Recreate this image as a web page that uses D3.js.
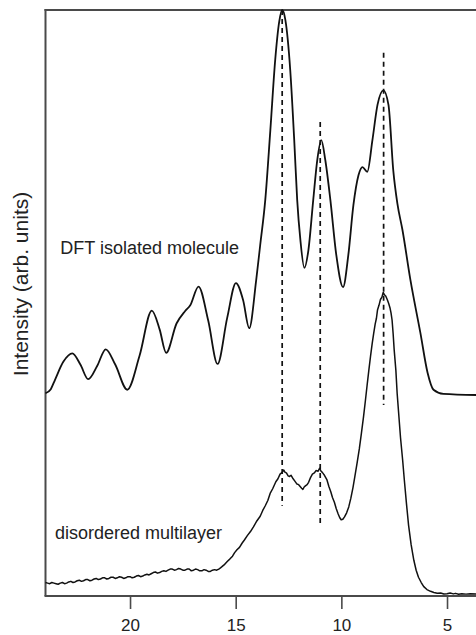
<!DOCTYPE html>
<html>
<head>
<meta charset="utf-8">
<script src="https://cdn.jsdelivr.net/npm/d3@7"></script>
<style>
  html, body { margin: 0; padding: 0; background: #fff; }
  svg { display: block; }
  text { font-family: "Liberation Sans", Arial, Helvetica, sans-serif; fill: #222; }
</style>
</head>
<body>
<svg id="chart" width="476" height="635"></svg>
<script>
// Energy axis (eV), drawn high to low
const energyDomain = [24, 3.6];
const intensityDomain = [0, 100];
const energyTicks = [20, 15, 10, 5];

// Calculated spectrum of the isolated molecule: [energy, intensity]
const dftSpectrum = [
  [24.0,34.6],[23.75,35.3],[23.55,36.9],[23.15,40.0],[22.73,41.4],[22.35,39.5],[21.98,37.0],
  [21.55,39.3],[21.15,42.1],[20.7,39.5],[20.13,35.2],[19.55,41.0],[18.97,48.7],
  [18.6,45.5],[18.29,41.5],[17.8,46.5],[17.4,48.6],[17.15,49.6],[16.76,52.8],[16.3,47.0],
  [15.86,39.6],[15.4,47.5],[14.99,53.4],[14.65,50.5],[14.36,45.7],[14.03,53.9],
  [13.84,59.9],[13.6,67.6],[13.36,79.5],[13.13,91.5],[12.94,98.0],[12.8,100],
  [12.65,98.3],[12.42,89.8],[12.23,77.8],[12.09,67.6],[11.94,60.8],[11.75,56.0],
  [11.56,59.0],[11.33,67.6],[11.14,74.4],[10.95,77.8],[10.76,74.4],[10.52,67.6],
  [10.24,58.2],[9.92,52.7],[9.67,58.2],[9.43,66.7],[9.19,71.8],[9.0,73.2],
  [8.77,72.4],[8.53,77.8],[8.29,83.8],[8.01,86.3],[7.77,83.8],[7.54,72.5],
  [7.35,67.0],[7.11,62.5],[6.73,53.9],[6.26,44.9],[5.92,38.1],[5.64,35.2],
  [5.17,34.5],[3.6,34.3]
];

// Measured spectrum of the disordered multilayer: [energy, intensity]
const multilayerSpectrum = [
  [24.0,2.3],[23.9,2.2],[23.8,2.1],[23.7,2.3],[23.6,2.2],[23.5,2.1],[23.4,2.0],[23.3,2.2],
  [23.2,2.3],[23.1,2.1],[23.0,2.2],[22.9,2.4],[22.8,2.5],[22.7,2.3],[22.6,2.4],[22.5,2.6],
  [22.4,2.7],[22.3,2.5],[22.2,2.6],[22.1,2.8],[22.0,2.8],[21.9,2.6],[21.8,2.7],[21.7,2.9],
  [21.6,3.0],[21.5,2.8],[21.4,2.9],[21.3,3.1],[21.2,3.1],[21.1,2.9],[21.0,3.0],[20.9,3.2],
  [20.8,3.2],[20.7,3.0],[20.6,3.1],[20.5,3.3],[20.4,3.2],[20.3,3.0],[20.2,3.1],[20.1,3.3],
  [20.0,3.3],[19.9,3.1],[19.8,3.2],[19.7,3.4],[19.6,3.5],[19.5,3.3],[19.4,3.4],[19.3,3.6],
  [19.2,3.7],[19.1,3.6],[19.0,3.8],[18.9,4.0],[18.8,4.1],[18.7,3.9],[18.6,4.0],[18.5,4.2],
  [18.4,4.3],[18.3,4.2],[18.2,4.4],[18.1,4.6],[18.0,4.6],[17.9,4.4],[17.8,4.5],[17.7,4.7],
  [17.6,4.6],[17.5,4.4],[17.4,4.4],[17.3,4.6],[17.2,4.6],[17.1,4.3],[17.0,4.4],[16.9,4.6],
  [16.8,4.5],[16.7,4.3],[16.6,4.3],[16.5,4.5],[16.4,4.4],[16.3,4.2],[16.2,4.2],[16.1,4.4],
  [16.0,4.5],[15.9,4.4],[15.8,4.6],[15.72,4.8],[15.65,5.0],[15.55,5.3],[15.4,5.9],
  [15.28,6.3],[15.15,6.8],[15.05,7.4],[14.94,7.9],[14.82,8.3],[14.7,9.0],[14.58,9.6],
  [14.45,10.3],[14.3,11.0],[14.16,11.8],[14.0,12.8],[13.84,13.6],[13.72,14.6],[13.6,15.4],
  [13.48,16.3],[13.37,17.5],[13.25,18.3],[13.1,19.5],[13.0,20.0],[12.9,20.8],[12.8,21.1],
  [12.73,21.5],[12.66,21.1],[12.6,21.0],[12.52,20.5],[12.45,20.4],[12.38,20.6],[12.3,20.1],
  [12.2,19.6],[12.1,19.1],[12.02,19.0],[11.95,18.7],[11.88,18.4],[11.82,18.2],[11.76,18.6],
  [11.7,18.8],[11.62,19.0],[11.55,19.4],[11.46,20.2],[11.37,20.8],[11.28,21.0],[11.2,21.4],
  [11.1,21.3],[11.03,21.8],[10.96,21.3],[10.9,21.1],[10.84,20.8],[10.8,20.6],[10.74,20.2],
  [10.68,19.8],[10.59,18.7],[10.5,17.8],[10.42,16.8],[10.33,16.0],[10.24,14.9],[10.15,14.0],
  [10.08,13.4],[10.01,13.0],[9.93,13.1],[9.85,13.5],[9.75,14.2],[9.65,15.2],[9.55,16.7],
  [9.45,18.5],[9.36,20.4],[9.26,22.6],[9.15,25.1],[9.05,27.8],[8.95,30.6],[8.86,33.4],
  [8.78,36.0],[8.7,38.5],[8.62,40.9],[8.54,43.1],[8.47,44.8],[8.4,46.4],[8.34,47.4],
  [8.29,48.8],[8.22,49.6],[8.15,50.6],[8.08,51.0],[8.02,51.8],[7.96,51.4],[7.9,51.2],
  [7.82,50.5],[7.76,49.9],[7.7,49.2],[7.65,48.3],[7.6,47.1],[7.55,44.8],[7.5,42.0],
  [7.42,38.5],[7.36,34.6],[7.28,30.8],[7.2,27.0],[7.1,23.2],[7.02,19.8],[6.92,15.8],
  [6.82,12.1],[6.7,8.8],[6.57,6.1],[6.46,4.4],[6.35,3.2],[6.22,2.3],[6.1,1.6],
  [5.95,1.1],[5.78,0.8],[5.62,0.6],[5.46,0.46],[5.3,0.5],[5.15,0.35],[5.0,0.38],
  [4.85,0.5],[4.7,0.36],[4.6,0.45],[4.45,0.3],[4.3,0.38],[4.1,0.32],[3.9,0.4],[3.6,0.34]
];

// Peak markers: energy, upper and lower ends in intensity units
const peakEnergies = [12.8, 11.0, 8.0];
const peakTop = [100, 80.9, 92.7];
const peakBottom = [15.4, 11.9, 32.6];

// Curve annotations: text, energy, intensity of the baseline
const labelTexts = ["DFT isolated molecule", "disordered multilayer"];
const labelEnergy = [23.3, 23.55];
const labelIntensity = [58.4, 9.75];

const svg = d3.select("#chart");
const plotLeft = 45.5, plotRight = 476.6, plotTop = 10, plotBottom = 596;

const x = d3.scaleLinear().domain(energyDomain).range([plotLeft, plotRight]);
const y = d3.scaleLinear().domain(intensityDomain).range([plotBottom, plotTop]);

// Frame: left and top edges
svg.append("line").attr("x1", plotLeft).attr("x2", plotLeft).attr("y1", plotTop - 1).attr("y2", plotBottom)
  .attr("stroke", "#4a4a4a").attr("stroke-width", 2);
svg.append("line").attr("x1", plotLeft - 1).attr("x2", 476).attr("y1", plotTop).attr("y2", plotTop)
  .attr("stroke", "#4a4a4a").attr("stroke-width", 2);

// Bottom axis
const xAxis = d3.axisBottom(x).tickValues(energyTicks).tickSize(13).tickPadding(10)
  .tickFormat(d3.format("d"));
const gx = svg.append("g").attr("transform", `translate(0,${plotBottom})`).call(xAxis);
gx.select(".domain").attr("stroke", "#4a4a4a").attr("stroke-width", 2)
  .attr("d", `M${plotLeft - 1},0H476`);
gx.selectAll(".tick line").attr("stroke", "#4a4a4a").attr("stroke-width", 1.6);
gx.selectAll(".tick text").attr("font-size", 17).attr("fill", "#222")
  .style("font-family", "'Liberation Sans', Arial, sans-serif");

// Y axis title
svg.append("text")
  .attr("transform", `translate(28,${(plotTop + plotBottom) / 2 - 19}) rotate(-90)`)
  .attr("text-anchor", "middle")
  .attr("font-size", 21)
  .text("Intensity (arb. units)");

// Peak markers
svg.append("g").selectAll("line").data(peakEnergies).join("line")
  .attr("x1", d => x(d)).attr("x2", d => x(d))
  .attr("y1", (d, i) => y(peakTop[i])).attr("y2", (d, i) => y(peakBottom[i]))
  .attr("stroke", "#111").attr("stroke-width", 1.7)
  .attr("stroke-dasharray", "5,4");

// Spectra
svg.append("path").datum(dftSpectrum)
  .attr("d", d3.line().x(d => x(d[0])).y(d => y(d[1])).curve(d3.curveMonotoneX))
  .attr("fill", "none").attr("stroke", "#111").attr("stroke-width", 1.8);
svg.append("path").datum(multilayerSpectrum)
  .attr("d", d3.line().x(d => x(d[0])).y(d => y(d[1])).curve(d3.curveLinear))
  .attr("fill", "none").attr("stroke", "#111").attr("stroke-width", 1.5)
  .attr("stroke-linejoin", "round");

// Curve labels
svg.append("g").selectAll("text").data(labelTexts).join("text")
  .attr("x", (d, i) => x(labelEnergy[i]))
  .attr("y", (d, i) => y(labelIntensity[i]))
  .attr("font-size", 18)
  .text(d => d);
</script>
</body>
</html>
